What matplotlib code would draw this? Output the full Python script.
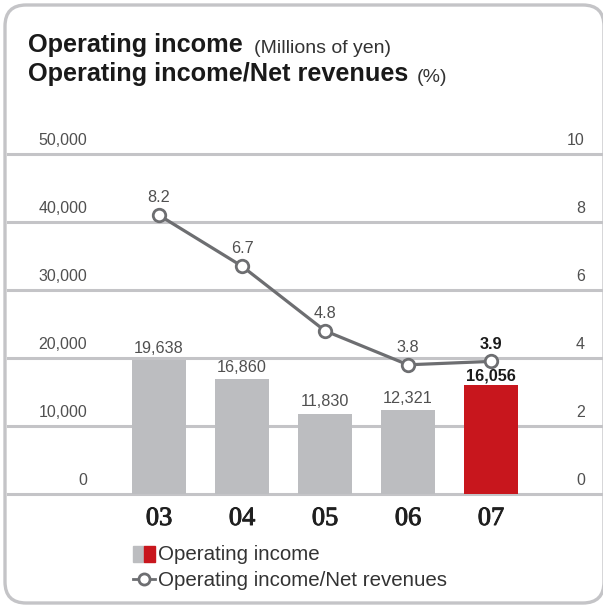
import matplotlib.pyplot as plt
import matplotlib.patheffects as pe
from matplotlib.patches import FancyBboxPatch, Rectangle
from matplotlib.lines import Line2D
from matplotlib.transforms import blended_transform_factory

plt.rcParams['font.family'] = ['Liberation Sans', 'DejaVu Sans']

years = ["03", "04", "05", "06", "07"]
income = [19638, 16860, 11830, 12321, 16056]
margin = [8.2, 6.7, 4.8, 3.8, 3.9]
left_ticks = [0, 10000, 20000, 30000, 40000, 50000]
right_ticks = [0, 2, 4, 6, 8, 10]

GREY_BAR = "#bcbdc0"
RED_BAR = "#c8161d"
LINE = "#6d6e71"
GRID = "#c4c4c7"
TICK_TXT = "#505050"

W, H = 603, 605
fig = plt.figure(figsize=(W / 100, H / 100), dpi=100)


def fx(px):
    return px / W


def fy(py):
    return 1 - py / H


# rounded outer frame, right edge runs off the canvas
frame = FancyBboxPatch((fx(5), fy(603)), fx(599), 598 / H,
                       boxstyle="round,pad=0,rounding_size=0.035",
                       transform=fig.transFigure, facecolor="white",
                       edgecolor="#c4c4c7", linewidth=2.4, zorder=-5)
fig.patches.append(frame)

ax = fig.add_axes([fx(8), fy(494), 1 - fx(8), fy(154) - fy(494)])
ax.set_facecolor("none")
ax.set_zorder(2)
x = list(range(len(years)))
ax.set_xlim((8 - 159) / 83, (603 - 159) / 83)
ax.set_ylim(0, 50000)
for s in ax.spines.values():
    s.set_visible(False)
ax.set_xticks([])
ax.set_yticks([])

for t in left_ticks:
    ax.axhline(t, color=GRID, lw=2.2, zorder=1, clip_on=False)
    ax.annotate(f"{t:,}", (-0.867, t), xytext=(0, 4), textcoords="offset points",
                ha="right", va="bottom", fontsize=11.5, color=TICK_TXT)

colors = [GREY_BAR] * (len(years) - 1) + [RED_BAR]
ax.bar(x, income, width=0.64, color=colors, zorder=2)
for i, v in enumerate(income):
    last = i == len(years) - 1
    ax.annotate(f"{v:,}", (i, v), xytext=(0, 3 if not last else 1),
                textcoords="offset points", ha="center", va="bottom",
                fontsize=11.7,
                fontweight="bold" if last else "normal",
                color="#1a1a1a" if last else TICK_TXT)

# year labels under the bars, slightly thickened serif
trans = blended_transform_factory(ax.transData, ax.transAxes)
for i, y in enumerate(years):
    ax.text(i, -25 / 340, y, transform=trans, ha="center", va="center",
            fontsize=19, family="Liberation Serif", color="#1f1f1f",
            path_effects=[pe.withStroke(linewidth=0.7, foreground="#1f1f1f")])

ax2 = ax.twinx()
ax2.set_zorder(3)
ax2.set_facecolor("none")
ax2.set_ylim(0, 10)
ax2.set_xlim(ax.get_xlim())
for s in ax2.spines.values():
    s.set_visible(False)
ax2.set_yticks([])
for t in right_ticks:
    ax2.annotate(f"{t}", ((585 - 159) / 83, t), xytext=(0, 4),
                 textcoords="offset points", ha="right", va="bottom",
                 fontsize=11.5, color=TICK_TXT)

ax2.plot(x, margin, color=LINE, lw=2.3, marker="o", markersize=9,
         markerfacecolor="white", markeredgecolor=LINE, markeredgewidth=2,
         zorder=3, clip_on=False)
for i, v in enumerate(margin):
    last = i == len(years) - 1
    ax2.annotate(f"{v}", (i, v), xytext=(0, 7), textcoords="offset points",
                 ha="center", va="bottom", fontsize=11.7,
                 fontweight="bold" if last else "normal",
                 color="#1a1a1a" if last else TICK_TXT)

# title block
t1 = fig.text(fx(28), fy(52), "Operating income", fontsize=18.2,
              fontweight="bold", color="#1a1a1a", va="baseline")
t2 = fig.text(fx(28), fy(81), "Operating income/Net revenues", fontsize=18.2,
              fontweight="bold", color="#1a1a1a", va="baseline")
ax.annotate("(Millions of yen)", xy=(1, 0), xycoords=t1, xytext=(8, 0),
            textcoords="offset points", fontsize=14, color="#333333",
            va="bottom", ha="left", annotation_clip=False)
ax.annotate("(%)", xy=(1, 0), xycoords=t2, xytext=(6, 0),
            textcoords="offset points", fontsize=14, color="#333333",
            va="bottom", ha="left", annotation_clip=False)

# legend
fig.patches.append(Rectangle((fx(133), fy(562)), fx(11), 16 / H,
                             transform=fig.transFigure, color=GREY_BAR))
fig.patches.append(Rectangle((fx(144), fy(562)), fx(11), 16 / H,
                             transform=fig.transFigure, color=RED_BAR))
fig.text(fx(158), fy(554), "Operating income", fontsize=14.8, color="#333333",
         va="center")
fig.lines.append(Line2D([fx(133), fx(155)], [fy(579), fy(579)],
                        transform=fig.transFigure, color=LINE, lw=2))
fig.lines.append(Line2D([fx(144)], [fy(579)], transform=fig.transFigure,
                        color=LINE, marker="o", markersize=8,
                        markerfacecolor="white", markeredgewidth=2))
fig.text(fx(158), fy(580), "Operating income/Net revenues", fontsize=14.8,
         color="#333333", va="center")

fig.savefig("out.png", dpi=100)
